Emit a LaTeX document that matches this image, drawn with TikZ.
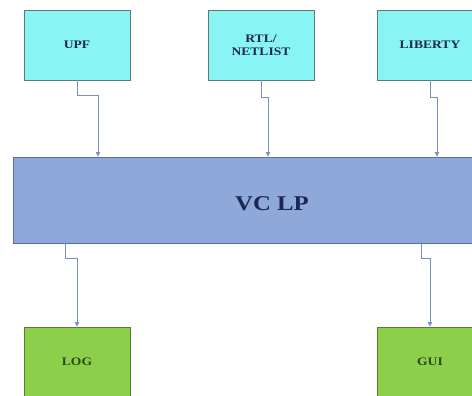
\documentclass[tikz,border=0pt]{standalone}
\usepackage{fontspec}
\setmainfont{Liberation Serif}[FakeStretch=1.18]
\usetikzlibrary{arrows.meta}
\definecolor{cyanfill}{HTML}{88F4F4}
\definecolor{cyanline}{HTML}{607878}
\definecolor{vcfill}{HTML}{8EA8DA}
\definecolor{vcline}{HTML}{5E6E96}
\definecolor{greenfill}{HTML}{8CCF4A}
\definecolor{greenline}{HTML}{5A7A3A}
\definecolor{arrowcol}{HTML}{7890C8}
\definecolor{navytext}{HTML}{1C2850}
\definecolor{greentext}{HTML}{2E4A18}
\begin{document}
\begin{tikzpicture}[x=1pt,y=-1pt,
  inbox/.style={draw=cyanline, fill=cyanfill, line width=0.9pt, font=\fontsize{11.5}{13}\selectfont\bfseries, text=navytext, align=center, inner sep=0pt},
  outbox/.style={draw=greenline, fill=greenfill, line width=0.9pt, font=\fontsize{11.5}{13}\selectfont\bfseries, text=greentext, inner sep=0pt},
  link/.style={draw=arrowcol, line width=0.8pt, -{Triangle[length=4.5pt,width=4.5pt]}}]
\useasboundingbox (0,0) rectangle (472,396);
\path[fill=white] (0,0) rectangle (472,396);
% top boxes
\node[inbox, minimum width=106pt, minimum height=70pt] (upf) at (77,45) {UPF};
\node[inbox, minimum width=106pt, minimum height=70pt] (rtl) at (261,45) {RTL/\\[0pt]NETLIST};
\node[inbox, minimum width=106pt, minimum height=70pt] (lib) at (430,45) {LIBERTY};
% main box
\node[draw=vcline, fill=vcfill, line width=0.9pt, minimum width=470pt, minimum height=86pt, inner sep=0pt] (vc) at (248,200) {};
\node[font=\fontsize{21}{24}\selectfont\bfseries, text=navytext, inner sep=0pt] (vctext) at (272,204) {VC LP};
% bottom boxes
\node[outbox, minimum width=106pt, minimum height=70pt] (log) at (77,362) {LOG};
\node[outbox, minimum width=106pt, minimum height=70pt] (gui) at (430,362) {GUI};
% connectors
\draw[link] (upf.south) -- ++(0,15) -| (vc.north -| 98,0);
\draw[link] (rtl.south) -- ++(0,17) -| (vc.north -| 268,0);
\draw[link] (lib.south) -- ++(0,17) -| (vc.north -| 437,0);
\draw[link] (vc.south -| 65,0) -- ++(0,15) -| (log.north);
\draw[link] (vc.south -| 421,0) -- ++(0,15) -| (gui.north);
\end{tikzpicture}
\end{document}
